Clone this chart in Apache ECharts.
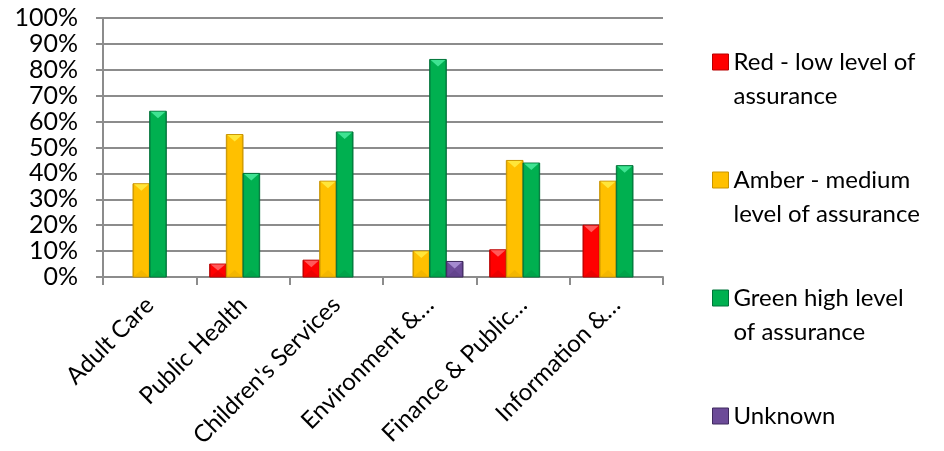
<!DOCTYPE html>
<html>
<head>
<meta charset="utf-8">
<script src="https://cdn.jsdelivr.net/npm/echarts@6/dist/echarts.min.js"></script>
<style>
  html, body { margin: 0; padding: 0; background: #fff; }
  #chart { width: 944px; height: 451px; }
</style>
</head>
<body>
<div id="chart"></div>
<script>
// Assurance levels by directorate (percent of audits)
const categories = ['Adult Care', 'Public Health', "Children's Services", 'Environment &…', 'Finance & Public…', 'Information &…'];
const redLow      = [null, 5, 6.5, null, 10.5, 20];
const amberMedium = [36, 55, 37, 10, 45, 37];
const greenHigh   = [64, 40, 56, 84, 44, 43];
const unknown     = [null, null, null, 6, null, null];
const yTicks = [0, 10, 20, 30, 40, 50, 60, 70, 80, 90, 100];

const seriesDefs = [
  { name: 'Red - low level of assurance',     label: 'Red - low level of\nassurance',      values: redLow,      base: '#ff0000', edge: '#b80000', light: '#ff5a5a', dark: '#d80000' },
  { name: 'Amber - medium level of assurance', label: 'Amber - medium\nlevel of assurance', values: amberMedium, base: '#ffc000', edge: '#c99400', light: '#ffe63a', dark: '#e8ac00' },
  { name: 'Green high level of assurance',    label: 'Green high level\nof assurance',     values: greenHigh,   base: '#00b050', edge: '#00743a', light: '#3fe392', dark: '#009a44' },
  { name: 'Unknown',                          label: 'Unknown',                            values: unknown,     base: '#6c4b98', edge: '#3f2a5e', light: '#a58ad0', dark: '#5a3e82' }
];

const SLOT_COUNT = 4;
const GROUP_FILL = 0.714; // share of a category band covered by the bar group

function makeRenderer(slot, def) {
  return function (params, api) {
    const idx = api.value(0);
    const val = api.value(1);
    const top = api.coord([idx, val]);
    const bottom = api.coord([idx, 0]);
    const band = api.size([1, 0])[0];
    const w = band * GROUP_FILL / SLOT_COUNT;
    const x = top[0] + (slot - SLOT_COUNT / 2) * w;
    const y = top[1];
    const h = bottom[1] - top[1];
    const bev = Math.min(7, h / 2);
    const grad = new echarts.graphic.LinearGradient(0, 0, 1, 0, [
      { offset: 0, color: def.edge },
      { offset: 0.12, color: def.base },
      { offset: 0.88, color: def.base },
      { offset: 1, color: def.edge }
    ]);
    return {
      type: 'group',
      children: [
        { type: 'rect', shape: { x: x, y: y, width: w, height: h },
          style: { fill: grad, stroke: def.edge, lineWidth: 1 } },
        { type: 'polygon', shape: { points: [[x + 1, y + 0.5], [x + w - 1, y + 0.5], [x + w / 2, y + bev]] },
          style: { fill: def.light } },
        { type: 'polygon', shape: { points: [[x + 1, y + h - 0.5], [x + w - 1, y + h - 0.5], [x + w / 2, y + h - bev]] },
          style: { fill: def.dark, opacity: 0.5 } }
      ]
    };
  };
}

const series = seriesDefs.map(function (def, slot) {
  const data = [];
  def.values.forEach(function (v, i) { if (v != null) data.push([i, v]); });
  return {
    type: 'custom',
    name: def.name,
    renderItem: makeRenderer(slot, def),
    encode: { x: 0, y: 1 },
    itemStyle: { color: def.base },
    data: data,
    z: 3
  };
});

// Two-line legend entries get a tall icon box whose square sits at the top,
// so the swatch lines up with the first text line.
const TALL_ICON = 'path://M0,0L16,0L16,16L0,16Z M0,50L0,50';
const legendFont = { fontFamily: 'Lato', fontSize: 24, color: '#000', lineHeight: 34 };
const legendTops = [45, 163, 281, 399];
const legends = seriesDefs.map(function (def, i) {
  const twoLines = def.label.indexOf('\n') >= 0;
  return {
    left: 712,
    top: legendTops[i],
    padding: 0,
    itemWidth: 16,
    itemHeight: twoLines ? 50 : 16,
    selectedMode: false,
    formatter: function () { return def.label; },
    itemStyle: { borderColor: def.edge, borderWidth: 1 },
    textStyle: legendFont,
    data: [{ name: def.name, icon: twoLines ? TALL_ICON : 'rect' }]
  };
});

const chart = echarts.init(document.getElementById('chart'), null, { renderer: 'canvas' });
chart.setOption({
  animation: false,
  backgroundColor: '#ffffff',
  grid: { left: 103, right: 281, top: 18, bottom: 174, containLabel: false },
  legend: legends,
  xAxis: {
    type: 'category',
    data: categories,
    boundaryGap: true,
    axisLine: { lineStyle: { color: '#8c8c8c', width: 2 } },
    axisTick: { show: true, length: 8, alignWithLabel: false, lineStyle: { color: '#8c8c8c', width: 2 } },
    axisLabel: {
      interval: 0, rotate: 45, margin: 24,
      fontFamily: 'Lato', fontSize: 24, color: '#000'
    },
    splitLine: { show: false }
  },
  yAxis: {
    type: 'value',
    min: yTicks[0],
    max: yTicks[yTicks.length - 1],
    interval: 10,
    axisLine: { show: true, lineStyle: { color: '#8c8c8c', width: 2 } },
    axisTick: { show: true, length: 7, lineStyle: { color: '#8c8c8c', width: 2 } },
    axisLabel: {
      formatter: '{value}%', margin: 25,
      fontFamily: 'Lato', fontSize: 25, color: '#000'
    },
    splitLine: { show: true, lineStyle: { color: '#8c8c8c', width: 2 } }
  },
  series: series
});
</script>
</body>
</html>
